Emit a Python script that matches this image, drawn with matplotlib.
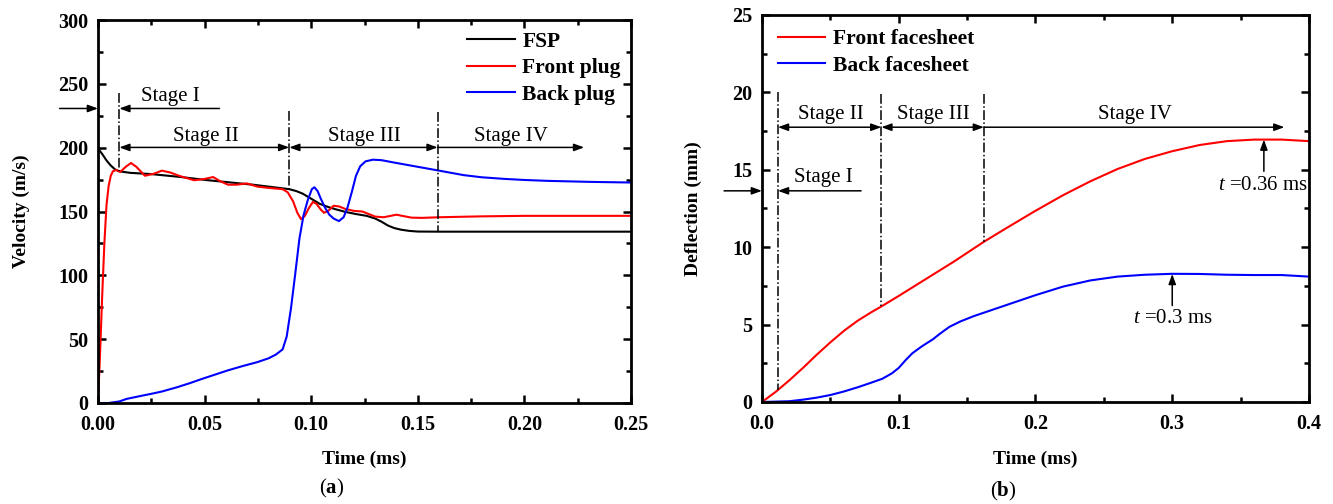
import numpy as np
import matplotlib
matplotlib.use('Agg')
from matplotlib import pyplot as plt
from matplotlib.ticker import MultipleLocator

#### Datos (a): velocidad
t_fsp = [0, 0.002, 0.004, 0.006, 0.008, 0.01, 0.015, 0.025, 0.039, 0.051, 0.0727, 0.0897,
         0.093, 0.096, 0.1, 0.104, 0.108, 0.112, 0.116, 0.121, 0.126, 0.13, 0.133, 0.136,
         0.139, 0.142, 0.146, 0.15, 0.16, 0.25]
v_fsp = [199.5, 195, 190, 186, 183, 181.5, 180.3, 179.3, 177, 174.6, 171, 167.5,
         166, 164, 160, 156, 153.5, 151.5, 149.7, 148, 146.6, 144.5, 142, 139,
         137, 135.8, 134.8, 134.3, 134.2, 134.2]

t_front = [0, 0.001, 0.002, 0.003, 0.004, 0.005, 0.006, 0.007, 0.0085, 0.0105, 0.013, 0.0155,
           0.018, 0.022, 0.026, 0.03, 0.034, 0.038, 0.045, 0.05, 0.054, 0.057, 0.061, 0.065,
           0.0698, 0.0747, 0.08, 0.0866, 0.089, 0.0915, 0.0935, 0.0952, 0.097, 0.099, 0.1008,
           0.1025, 0.1045, 0.106, 0.108, 0.1105, 0.113, 0.116, 0.12, 0.124, 0.127, 0.13,
           0.134, 0.137, 0.14, 0.143, 0.147, 0.152, 0.16, 0.18, 0.2, 0.25]
v_front = [0, 40, 85, 125, 155, 170, 178, 181.5, 182.5, 181, 185, 188,
           185, 178, 179.5, 182, 180.5, 178, 174.5, 175.5, 177, 174, 171, 171,
           172, 169.5, 168.5, 167.5, 165, 158, 149, 144, 146.5, 153, 157.5,
           156, 151.5, 149, 150.5, 154.5, 154, 152, 150.5, 150, 148, 146,
           145.5, 146.5, 147.5, 146.5, 145.2, 145, 145.5, 146.2, 146.6, 146.6]

t_back = [0, 0.005, 0.01, 0.0134, 0.02, 0.0253, 0.03, 0.037, 0.043, 0.049, 0.055, 0.061,
          0.068, 0.0747, 0.08, 0.0835, 0.0866, 0.0885, 0.0905, 0.0925, 0.0945, 0.0964,
          0.0984, 0.1003, 0.1015, 0.103, 0.1045, 0.1065, 0.1085, 0.1105, 0.113, 0.1152,
          0.117, 0.119, 0.121, 0.123, 0.1255, 0.129, 0.133, 0.14, 0.15, 0.16, 0.1715,
          0.18, 0.191, 0.2, 0.211, 0.231, 0.25]
v_back = [0, 0, 1.2, 3.2, 5.5, 7.3, 9, 12.3, 15.5, 19, 22.3, 25.6,
          29, 32, 35, 38, 42, 52, 74, 101, 129, 147,
          159, 167.5, 169, 166, 160, 153, 147.5, 144.5, 142.5, 145.5,
          153, 165, 178, 185.5, 189.3, 190.6, 190.2, 188, 185, 182, 178.5,
          176.8, 175.5, 174.7, 174, 173.2, 172.7]

#### Datos (b): deflexion
t_ff = [0, 0.01, 0.02, 0.03, 0.04, 0.05, 0.06, 0.07, 0.08, 0.0873, 0.1, 0.12, 0.14,
        0.1623, 0.18, 0.2, 0.22, 0.24, 0.26, 0.28, 0.3, 0.32, 0.34, 0.36, 0.38, 0.4]
d_ff = [0, 0.65, 1.4, 2.2, 3.05, 3.85, 4.6, 5.25, 5.8, 6.17, 6.85, 7.95, 9.05,
        10.35, 11.3, 12.35, 13.35, 14.25, 15.05, 15.7, 16.2, 16.6, 16.85, 16.95, 16.95, 16.85]

t_bf = [0, 0.02, 0.03, 0.04, 0.05, 0.06, 0.07, 0.08, 0.088, 0.095, 0.1, 0.105, 0.11,
        0.117, 0.125, 0.13, 0.137, 0.145, 0.155, 0.165, 0.18, 0.2, 0.22, 0.24, 0.26,
        0.28, 0.3, 0.32, 0.34, 0.36, 0.38, 0.4]
d_bf = [0, 0.05, 0.15, 0.28, 0.45, 0.68, 0.95, 1.25, 1.5, 1.85, 2.2, 2.7, 3.15,
        3.6, 4.05, 4.4, 4.85, 5.2, 5.55, 5.85, 6.3, 6.9, 7.45, 7.85, 8.1,
        8.22, 8.28, 8.27, 8.22, 8.2, 8.2, 8.1]

plt.rcParams['font.family'] = ['Liberation Serif', 'DejaVu Serif']
plt.rcParams['mathtext.fontset'] = 'custom'
plt.rcParams['mathtext.rm'] = 'Liberation Serif'
plt.rcParams['mathtext.it'] = 'Liberation Serif:italic'
plt.rcParams['mathtext.bf'] = 'Liberation Serif:bold'

fig = plt.figure(figsize=(13.33, 5.04), dpi=100)
ax1 = fig.add_axes([0.0735, 0.2004, 0.3999, 0.7599])
ax2 = fig.add_axes([0.5716, 0.2024, 0.4104, 0.7679])


def estilo(ax, xmaj, ymaj):
    for s in ax.spines.values():
        s.set_linewidth(2)
    ax.xaxis.set_major_locator(MultipleLocator(xmaj))
    ax.xaxis.set_minor_locator(MultipleLocator(xmaj / 2))
    ax.yaxis.set_major_locator(MultipleLocator(ymaj))
    ax.yaxis.set_minor_locator(MultipleLocator(ymaj / 2))
    ax.tick_params(which='both', direction='in', top=True, right=True, width=1.8)
    ax.tick_params(which='major', length=6, labelsize=14.5)
    ax.tick_params(axis='x', which='major', pad=8.5)
    ax.tick_params(axis='y', which='major', pad=7)
    ax.tick_params(which='minor', length=3.5)
    for lab in ax.get_xticklabels() + ax.get_yticklabels():
        lab.set_fontweight('bold')


def flecha(ax, x0, y0, x1, y1, estilo_f='-|>'):
    ax.annotate('', xy=(x1, y1), xytext=(x0, y0), annotation_clip=False,
                arrowprops=dict(arrowstyle=estilo_f + ',head_length=0.6,head_width=0.22',
                                color='black', lw=1.1, shrinkA=0, shrinkB=0))


#### Grafica (a)
ax1.plot(t_fsp, v_fsp, color='black', lw=1.5, label='FSP')
ax1.plot(t_front, v_front, color='red', lw=1.5, label='Front plug')
ax1.plot(t_back, v_back, color='blue', lw=1.5, label='Back plug')
ax1.set_xlim(0, 0.25)
ax1.set_ylim(0, 300)
ax1.xaxis.set_major_formatter(matplotlib.ticker.FormatStrFormatter('%.2f'))
estilo(ax1, 0.05, 50)
ax1.set_xlabel('Time (ms)', fontsize=14, fontweight='bold')
ax1.set_ylabel('Velocity (m/s)', fontsize=14, fontweight='bold')
ax1.xaxis.set_label_coords(0.5, -0.125)
ax1.yaxis.set_label_coords(-0.128, 0.5)
ax1.legend(loc='upper right', bbox_to_anchor=(1.017, 1.02), frameon=False,
           prop={'weight': 'bold', 'size': 15.5}, handlelength=2.2, handletextpad=0.35,
           labelspacing=0.3)

ax1.plot([0.01, 0.01], [242.5, 182], color='black', lw=1.1, ls='-.')
ax1.plot([0.0897, 0.0897], [228.6, 167.5], color='black', lw=1.1, ls='-.')
ax1.plot([0.1593, 0.1593], [228, 134.2], color='black', lw=1.1, ls='-.')
flecha(ax1, -0.018, 230.7, 0.0, 230.7)
flecha(ax1, 0.057, 230.7, 0.01, 230.7)
flecha(ax1, 0.01, 200.2, 0.0897, 200.2, '<|-|>')
flecha(ax1, 0.0897, 200.2, 0.1593, 200.2, '<|-|>')
flecha(ax1, 0.1593, 200.2, 0.228, 200.2)
ax1.text(0.034, 240, 'Stage I', ha='center', va='center', fontsize=15)
ax1.text(0.0506, 209, 'Stage II', ha='center', va='center', fontsize=15)
ax1.text(0.125, 209, 'Stage III', ha='center', va='center', fontsize=15)
ax1.text(0.1937, 209, 'Stage IV', ha='center', va='center', fontsize=15)
fig.text(332 / 1333, 1 - 488 / 504, r'($\mathbf{a}$)', ha='center', va='center', fontsize=15)

#### Grafica (b)
ax2.plot(t_ff, d_ff, color='red', lw=1.5, label='Front facesheet')
ax2.plot(t_bf, d_bf, color='blue', lw=1.5, label='Back facesheet')
ax2.set_xlim(0, 0.4)
ax2.set_ylim(0, 25)
estilo(ax2, 0.1, 5)
ax2.set_xlabel('Time (ms)', fontsize=14, fontweight='bold')
ax2.set_ylabel('Deflection (mm)', fontsize=14, fontweight='bold')
ax2.xaxis.set_label_coords(0.5, -0.125)
ax2.yaxis.set_label_coords(-0.11, 0.5)
ax2.legend(loc='upper left', bbox_to_anchor=(-0.006, 1.013), frameon=False,
           prop={'weight': 'bold', 'size': 15.5}, handlelength=2.2, handletextpad=0.35,
           labelspacing=0.3)

ax2.plot([0.0117, 0.0117], [20.0, 0.76], color='black', lw=1.1, ls='-.')
ax2.plot([0.0873, 0.0873], [19.9, 6.17], color='black', lw=1.1, ls='-.')
ax2.plot([0.1623, 0.1623], [19.9, 10.35], color='black', lw=1.1, ls='-.')
flecha(ax2, 0.0117, 17.75, 0.0873, 17.75, '<|-|>')
flecha(ax2, 0.0873, 17.75, 0.1623, 17.75, '<|-|>')
flecha(ax2, 0.1623, 17.75, 0.382, 17.75)
flecha(ax2, -0.0277, 13.64, 0.0, 13.64)
flecha(ax2, 0.0725, 13.64, 0.0117, 13.64)
ax2.text(0.0504, 18.55, 'Stage II', ha='center', va='center', fontsize=15)
ax2.text(0.1255, 18.55, 'Stage III', ha='center', va='center', fontsize=15)
ax2.text(0.2727, 18.55, 'Stage IV', ha='center', va='center', fontsize=15)
ax2.text(0.0448, 14.5, 'Stage I', ha='center', va='center', fontsize=15)

flecha(ax2, 0.367, 14.9, 0.367, 16.95)
flecha(ax2, 0.3, 6.23, 0.3, 8.27)
ax2.text(0.3665, 13.96, r'$\mathit{t}$ =0.36 ms', ha='center', va='center', fontsize=15)
ax2.text(0.3005, 5.4, r'$\mathit{t}$ =0.3 ms', ha='center', va='center', fontsize=15)
fig.text(1003 / 1333, 1 - 491 / 504, r'($\mathbf{b}$)', ha='center', va='center', fontsize=15)

plt.savefig('out.png', dpi=100)
